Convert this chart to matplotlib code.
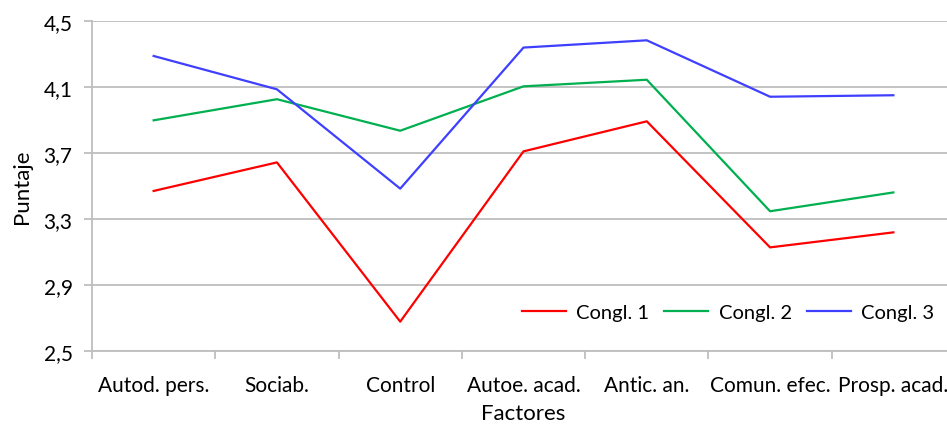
import numpy as np
import matplotlib.pyplot as plt

factores = ['Autod. pers.', 'Sociab.', 'Control', 'Autoe. acad.', 'Antic. an.',
            'Comun. efec.', 'Prosp. acad.']
congl1 = [3.47, 3.643, 2.678, 3.71, 3.892, 3.128, 3.219]
congl2 = [3.898, 4.026, 3.835, 4.104, 4.144, 3.347, 3.461]
congl3 = [4.288, 4.086, 3.484, 4.339, 4.383, 4.041, 4.05]
yticks = [2.5, 2.9, 3.3, 3.7, 4.1, 4.5]

plt.rcParams['font.family'] = ['Lato', 'DejaVu Sans']

fig = plt.figure(figsize=(9.47, 4.27), dpi=100)
ax = fig.add_axes([92/947, 75/427, 863/947, 330/427])

x = np.arange(len(factores))
ax.plot(x, congl1, color='#FF0000', lw=1.6, label='Congl. 1')
ax.plot(x, congl2, color='#00B050', lw=1.6, label='Congl. 2')
ax.plot(x, congl3, color='#3F3FFF', lw=1.6, label='Congl. 3')

ax.set_xlim(-0.5, len(factores) - 0.5)
ax.set_ylim(2.5, 4.5)
ax.set_yticks(yticks)
ax.set_yticklabels([('%.1f' % v).replace('.', ',') for v in yticks], fontsize=15)
ax.yaxis.grid(True, color='#BEBEBE', lw=1.3)
ax.set_axisbelow(True)

# category labels centred, tick marks on boundaries
ax.set_xticks(x)
ax.set_xticklabels(factores, fontsize=15)
ax.set_xticks(np.arange(len(factores) + 1) - 0.5, minor=True)
ax.tick_params(axis='x', which='major', length=0, pad=17)
ax.tick_params(axis='x', which='minor', length=6, width=1.3, color='#BEBEBE')
ax.tick_params(axis='y', length=6, width=1.3, color='#BEBEBE', pad=8)

for s in ['top', 'right']:
    ax.spines[s].set_visible(False)
for s in ['left', 'bottom']:
    ax.spines[s].set_color('#BEBEBE')
    ax.spines[s].set_linewidth(1.3)

ax.set_xlabel('Factores', fontsize=16, labelpad=6)
ax.set_ylabel('Puntaje', fontsize=16, labelpad=8)

ax.legend(loc='lower right', bbox_to_anchor=(0.997, 0.035), ncol=3, frameon=False,
          fontsize=14.5, handlelength=2.2, columnspacing=0.75, handletextpad=0.5)

fig.savefig('out.png', dpi=100)
